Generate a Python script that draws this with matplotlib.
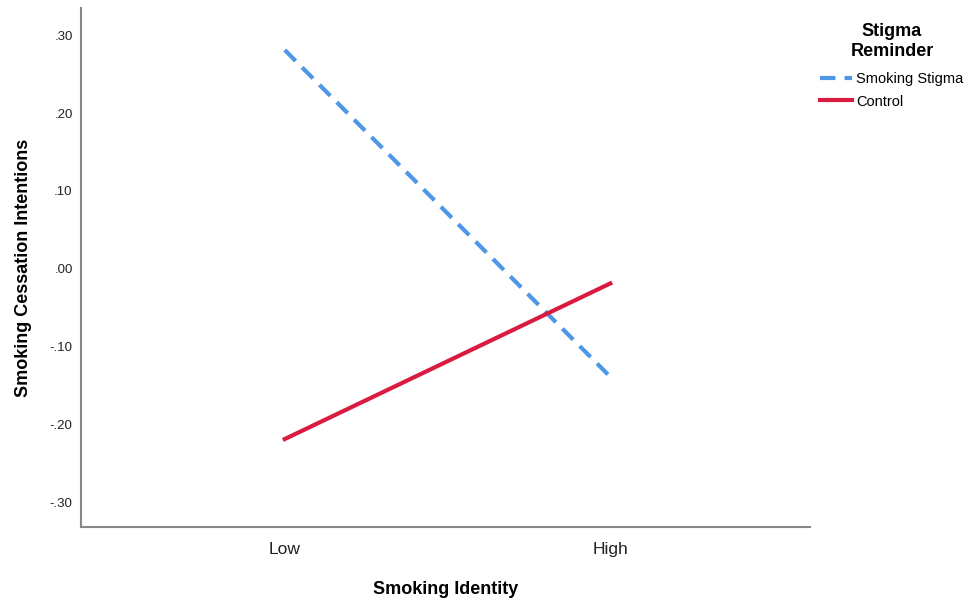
import matplotlib
matplotlib.use("Agg")
from matplotlib import pyplot as plt

plt.rcParams['font.family'] = ['Liberation Sans', 'DejaVu Sans']

identity = ['Low', 'High']
stigma = [0.281, -0.139]
control = [-0.219, -0.019]
yticks = [0.30, 0.20, 0.10, 0.00, -0.10, -0.20, -0.30]
ytick_labels = ['.30', '.20', '.10', '.00', '-.10', '-.20', '-.30']

fig = plt.figure(figsize=(9.79, 6.06), dpi=100)
ax = fig.add_axes([0.0827, 0.1304, 0.7445, 0.8564])

xs = range(len(identity))
ax.plot(xs, stigma, color='#4e96e6', lw=3, ls=(0, (3.7, 2.2)), label='Smoking Stigma')
ax.plot(xs, control, color='#d81b3f', lw=3, label='Control')

ax.set_xlim(-0.626, 1.613)
ax.set_ylim(-0.332, 0.335)
ax.set_xticks(list(xs))
ax.set_xticklabels(identity, fontsize=12.5, color='#222222')
ax.set_yticks(yticks)
ax.set_yticklabels(ytick_labels, fontsize=9.5, color='#222222')
ax.tick_params(axis='x', length=0, pad=11)
ax.tick_params(axis='y', length=0, pad=6)

for s in ['top', 'right']:
    ax.spines[s].set_visible(False)
for s in ['left', 'bottom']:
    ax.spines[s].set_color('#888888')
    ax.spines[s].set_linewidth(1.5)

ax.set_xlabel('Smoking Identity', fontsize=13, fontweight='bold', labelpad=17)
ax.set_ylabel('Smoking Cessation Intentions', fontsize=13, fontweight='bold', labelpad=13)

leg = ax.legend(title='Stigma\nReminder', loc='upper left', bbox_to_anchor=(1.0, 0.99),
                frameon=False, fontsize=10.5, handlelength=2.2, handletextpad=0.3,
                labelspacing=0.55, borderaxespad=0.3)
leg.get_title().set_fontweight('bold')
leg.get_title().set_fontsize(13)
leg.get_title().set_multialignment('center')
leg._legend_box.align = 'center'
leg._legend_box.sep = 9

fig.savefig('out.png', dpi=100)
